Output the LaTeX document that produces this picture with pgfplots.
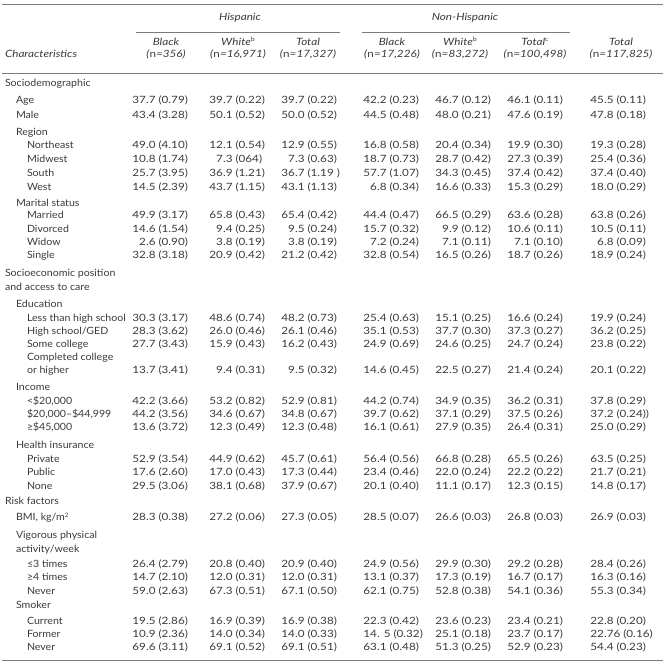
\documentclass[border=0pt]{standalone}
\usepackage{pgfplots}
\pgfplotsset{compat=1.18}
\usepackage{fontspec}
\setmainfont{Lato}[Numbers=Lining,FakeStretch=1.06]
\newfontfamily\numfont{Lato}[Numbers=Lining,FakeStretch=1.17]
\definecolor{txt}{HTML}{3A3A3A}
\definecolor{rulec}{HTML}{7A7A7A}
\newcommand\sups[1]{\raisebox{3.6bp}{\fontsize{6bp}{6bp}\selectfont\upshape #1}}
% decimal-aligned cell: x (decimal point), y (row centre), text
\newcommand\D[3]{\splitD{#1}{#2}#3\relax}
\def\splitD#1#2#3.#4\relax{%
  \node[t,anchor=base east,font=\fontsize{10bp}{12bp}\selectfont\numfont] at (axis cs:#1,{#2+3.6}) {#3};%
  \node[t,anchor=base west,font=\fontsize{10bp}{12bp}\selectfont\numfont] at (axis cs:#1,{#2+3.6}) {.#4};}
% a data row: y, seven values
\newcommand\R[8]{%
  \D{146}{#1}{#2}\D{223}{#1}{#3}\D{295}{#1}{#4}%
  \D{377}{#1}{#5}\D{449}{#1}{#6}\D{521}{#1}{#7}\D{604}{#1}{#8}}
% a row label: level, y, text
\newcommand\Lb[3]{\node[t,anchor=base west] at (axis cs:{\ifcase#1 5\or 16\or 27\fi},{#2+3.6}) {#3};}
\newcommand\Hd[3]{% x, name, n
  \node[t,anchor=base,font=\fontsize{10bp}{12bp}\selectfont\numfont\itshape] at (axis cs:#1,45.6) {#2};
  \node[t,anchor=base,font=\fontsize{10bp}{12bp}\selectfont\numfont\itshape] at (axis cs:#1,57.8) {(\textup{n}=#3)};}
\begin{document}
\begin{tikzpicture}[t/.style={inner sep=0pt,outer sep=0pt,text=txt,font=\fontsize{10bp}{12bp}\selectfont}]
\begin{axis}[width=667bp,height=663bp,scale only axis,xmin=0,xmax=667,ymin=0,ymax=663,
  y dir=reverse,hide axis,clip=false]
\path (axis cs:0,0) rectangle (axis cs:667,663);
% rules
\draw[rulec,line width=0.8bp] (axis cs:2,4) -- (axis cs:663,4);
\draw[rulec,line width=0.8bp] (axis cs:136,32) -- (axis cs:340,32);
\draw[rulec,line width=0.8bp] (axis cs:362,32) -- (axis cs:570,32);
\draw[rulec,line width=0.8bp] (axis cs:2,73) -- (axis cs:663,73);
\draw[rulec,line width=0.8bp] (axis cs:2,660) -- (axis cs:663,660);
% headers
\node[t,anchor=base,font=\fontsize{10bp}{12bp}\selectfont\numfont\itshape] at (axis cs:240,20.6) {Hispanic};
\node[t,anchor=base,font=\fontsize{10bp}{12bp}\selectfont\numfont\itshape] at (axis cs:465,20.6) {Non-Hispanic};
\node[t,anchor=base west,font=\fontsize{10bp}{12bp}\selectfont\numfont\itshape] at (axis cs:5,57.8) {Characteristics};
\Hd{166}{Black}{356}
\Hd{238}{White\sups{b}}{16,971}
\Hd{308}{Total}{17,327}
\Hd{392}{Black}{17,226}
\Hd{460}{White\sups{b}}{83,272}
\Hd{535}{Total\sups{c}}{100,498}
\Hd{621}{Total}{117,825}
% body
\Lb{0}{83}{Sociodemographic}
\Lb{1}{100}{Age}\R{100}{37.7 (0.79)}{39.7 (0.22)}{39.7 (0.22)}{42.2 (0.23)}{46.7 (0.12)}{46.1 (0.11)}{45.5 (0.11)}
\Lb{1}{115}{Male}\R{115}{43.4 (3.28)}{50.1 (0.52)}{50.0 (0.52)}{44.5 (0.48)}{48.0 (0.21)}{47.6 (0.19)}{47.8 (0.18)}
\Lb{1}{132}{Region}
\Lb{2}{145}{Northeast}\R{145}{49.0 (4.10)}{12.1 (0.54)}{12.9 (0.55)}{16.8 (0.58)}{20.4 (0.34)}{19.9 (0.30)}{19.3 (0.28)}
\Lb{2}{159}{Midwest}\R{159}{10.8 (1.74)}{7.3 (064)}{7.3 (0.63)}{18.7 (0.73)}{28.7 (0.42)}{27.3 (0.39)}{25.4 (0.36)}
\Lb{2}{173}{South}\R{173}{25.7 (3.95)}{36.9 (1.21)}{36.7 (1.19 )}{57.7 (1.07)}{34.3 (0.45)}{37.4 (0.42)}{37.4 (0.40)}
\Lb{2}{187}{West}\R{187}{14.5 (2.39)}{43.7 (1.15)}{43.1 (1.13)}{6.8 (0.34)}{16.6 (0.33)}{15.3 (0.29)}{18.0 (0.29)}
\Lb{1}{203}{Marital status}
\Lb{2}{215}{Married}\R{215}{49.9 (3.17)}{65.8 (0.43)}{65.4 (0.42)}{44.4 (0.47)}{66.5 (0.29)}{63.6 (0.28)}{63.8 (0.26)}
\Lb{2}{229}{Divorced}\R{229}{14.6 (1.54)}{9.4 (0.25)}{9.5 (0.24)}{15.7 (0.32)}{9.9 (0.12)}{10.6 (0.11)}{10.5 (0.11)}
\Lb{2}{242}{Widow}\R{242}{2.6 (0.90)}{3.8 (0.19)}{3.8 (0.19)}{7.2 (0.24)}{7.1 (0.11)}{7.1 (0.10)}{6.8 (0.09)}
\Lb{2}{255}{Single}\R{255}{32.8 (3.18)}{20.9 (0.42)}{21.2 (0.42)}{32.8 (0.54)}{16.5 (0.26)}{18.7 (0.26)}{18.9 (0.24)}
\Lb{0}{273}{Socioeconomic position}
\Lb{0}{287}{and access to care}
\Lb{1}{304}{Education}
\Lb{2}{318}{Less than high school}\R{318}{30.3 (3.17)}{48.6 (0.74)}{48.2 (0.73)}{25.4 (0.63)}{15.1 (0.25)}{16.6 (0.24)}{19.9 (0.24)}
\Lb{2}{331}{High school/GED}\R{331}{28.3 (3.62)}{26.0 (0.46)}{26.1 (0.46)}{35.1 (0.53)}{37.7 (0.30)}{37.3 (0.27)}{36.2 (0.25)}
\Lb{2}{344}{Some college}\R{344}{27.7 (3.43)}{15.9 (0.43)}{16.2 (0.43)}{24.9 (0.69)}{24.6 (0.25)}{24.7 (0.24)}{23.8 (0.22)}
\Lb{2}{357}{Completed college}
\Lb{2}{370}{or higher}\R{370}{13.7 (3.41)}{9.4 (0.31)}{9.5 (0.32)}{14.6 (0.45)}{22.5 (0.27)}{21.4 (0.24)}{20.1 (0.22)}
\Lb{1}{387}{Income}
\Lb{2}{401}{<\$20,000}\R{401}{42.2 (3.66)}{53.2 (0.82)}{52.9 (0.81)}{44.2 (0.74)}{34.9 (0.35)}{36.2 (0.31)}{37.8 (0.29)}
\Lb{2}{414}{\$20,000–\$44,999}\R{414}{44.2 (3.56)}{34.6 (0.67)}{34.8 (0.67)}{39.7 (0.62)}{37.1 (0.29)}{37.5 (0.26)}{37.2 (0.24))}
\Lb{2}{427}{≥\$45,000}\R{427}{13.6 (3.72)}{12.3 (0.49)}{12.3 (0.48)}{16.1 (0.61)}{27.9 (0.35)}{26.4 (0.31)}{25.0 (0.29)}
\Lb{1}{445}{Health insurance}
\Lb{2}{459}{Private}\R{459}{52.9 (3.54)}{44.9 (0.62)}{45.7 (0.61)}{56.4 (0.56)}{66.8 (0.28)}{65.5 (0.26)}{63.5 (0.25)}
\Lb{2}{472}{Public}\R{472}{17.6 (2.60)}{17.0 (0.43)}{17.3 (0.44)}{23.4 (0.46)}{22.0 (0.24)}{22.2 (0.22)}{21.7 (0.21)}
\Lb{2}{486}{None}\R{486}{29.5 (3.06)}{38.1 (0.68)}{37.9 (0.67)}{20.1 (0.40)}{11.1 (0.17)}{12.3 (0.15)}{14.8 (0.17)}
\Lb{0}{501}{Risk factors}
\Lb{1}{517}{BMI, kg/m\sups{2}}\R{517}{28.3 (0.38)}{27.2 (0.06)}{27.3 (0.05)}{28.5 (0.07)}{26.6 (0.03)}{26.8 (0.03)}{26.9 (0.03)}
\Lb{1}{535}{Vigorous physical}
\Lb{1}{549}{activity/week}
\Lb{2}{564}{≤3 times}\R{564}{26.4 (2.79)}{20.8 (0.40)}{20.9 (0.40)}{24.9 (0.56)}{29.9 (0.30)}{29.2 (0.28)}{28.4 (0.26)}
\Lb{2}{577}{≥4 times}\R{577}{14.7 (2.10)}{12.0 (0.31)}{12.0 (0.31)}{13.1 (0.37)}{17.3 (0.19)}{16.7 (0.17)}{16.3 (0.16)}
\Lb{2}{591}{Never}\R{591}{59.0 (2.63)}{67.3 (0.51)}{67.1 (0.50)}{62.1 (0.75)}{52.8 (0.38)}{54.1 (0.36)}{55.3 (0.34)}
\Lb{1}{605}{Smoker}
\Lb{2}{621}{Current}\R{621}{19.5 (2.86)}{16.9 (0.39)}{16.9 (0.38)}{22.3 (0.42)}{23.6 (0.23)}{23.4 (0.21)}{22.8 (0.20)}
\Lb{2}{634}{Former}\R{634}{10.9 (2.36)}{14.0 (0.34)}{14.0 (0.33)}{14. 5 (0.32)}{25.1 (0.18)}{23.7 (0.17)}{22.76 (0.16)}
\Lb{2}{647}{Never}\R{647}{69.6 (3.11)}{69.1 (0.52)}{69.1 (0.51)}{63.1 (0.48)}{51.3 (0.25)}{52.9 (0.23)}{54.4 (0.23)}
\end{axis}
\end{tikzpicture}
\end{document}
